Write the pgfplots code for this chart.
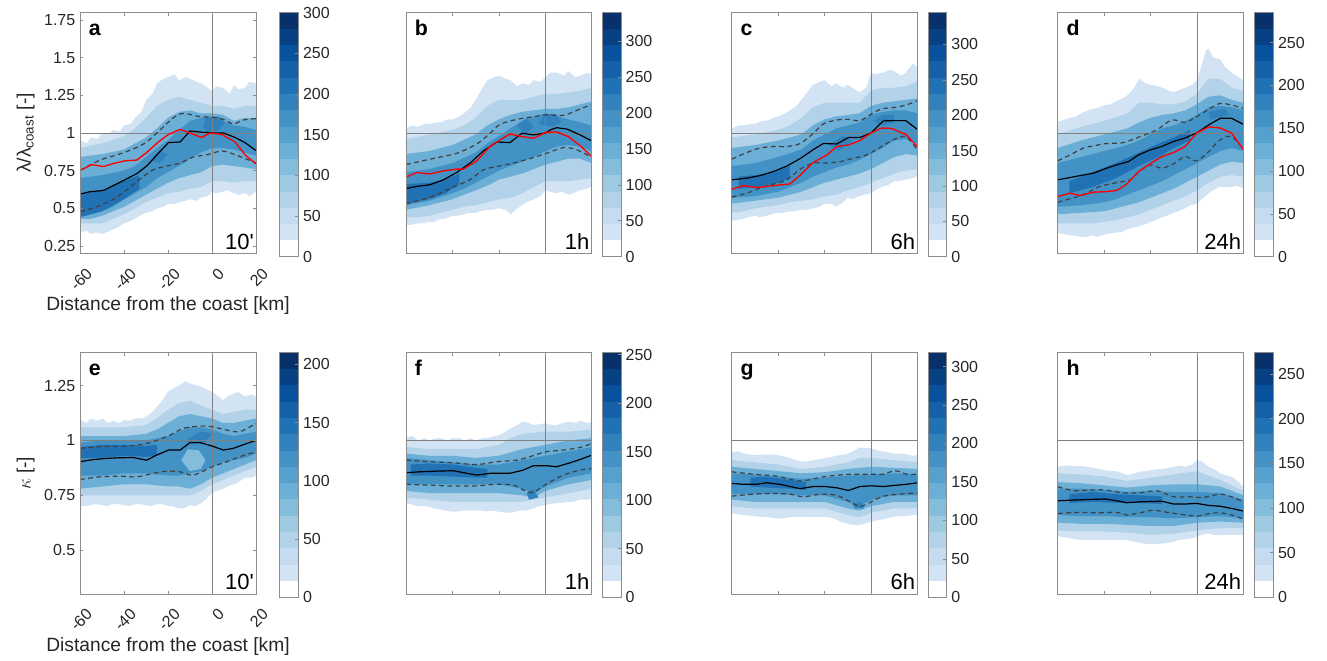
\documentclass[border=0pt]{standalone}
\usepackage{fontspec}
\setmainfont{Liberation Sans}
\usepackage{pgfplots}
\pgfplotsset{compat=1.18}
\definecolor{cb1}{RGB}{210,227,243}
\definecolor{cb2}{RGB}{197,219,239}
\definecolor{cb3}{RGB}{177,210,232}
\definecolor{cb4}{RGB}{158,202,225}
\definecolor{cb5}{RGB}{132,188,219}
\definecolor{cb6}{RGB}{107,174,214}
\definecolor{cb7}{RGB}{86,160,206}
\definecolor{cb8}{RGB}{66,146,198}
\definecolor{cb9}{RGB}{49,129,189}
\definecolor{cb10}{RGB}{33,113,181}
\definecolor{cb11}{RGB}{20,97,168}
\definecolor{cb12}{RGB}{8,81,156}
\definecolor{cb13}{RGB}{8,65,131}
\definecolor{cb14}{RGB}{8,48,107}
\definecolor{framec}{RGB}{140,140,140}
\definecolor{txtc}{RGB}{38,38,38}
\definecolor{dashc}{RGB}{64,64,64}
\colorlet{Lone}{cb1}
\colorlet{Ltwo}{cb3}
\colorlet{Lthree}{cb6}
\colorlet{Lfour}{cb8}
\colorlet{Lfive}{cb10}
\colorlet{Lblob}{cb9}
\pgfplotsset{
  /pgf/number format/assume math mode=true,
  panel/.style={scale only axis, anchor=south west, xmin=-60, xmax=20, axis on top,
    axis line style={draw=framec, line width=0.45pt},
    tick style={draw=framec, line width=0.45pt},
    tick align=inside, major tick length=2.5pt,
    xtick={-60,-40,-20,0,20}, xticklabels={}, ytick=\empty,
    ticklabel style={text=txtc, font=\fontsize{12}{13}\selectfont},
    label style={text=txtc, font=\fontsize{14.4}{16}\selectfont}},
  toprow/.style={panel, ymin=0.2, ymax=1.8, height=180.75pt},
  botrow/.style={panel, ymin=0.3, ymax=1.4, height=181pt},
  labx/.style={xticklabels={-60,-40,-20,0,20},
    xticklabel style={anchor=east, inner sep=0.5pt, xshift=7.5pt, yshift=-12.75pt, rotate=45},
    xlabel={Distance from the coast [km]},
    xlabel style={at={(axis description cs:0.5,0)}, anchor=base, yshift=-43pt, inner sep=0pt},
    ylabel style={at={(axis description cs:-0.2557,0.5)}, anchor=south, inner sep=0pt}},
  cbar/.style={scale only axis, anchor=south west, xmin=-0.5, xmax=0.5, ymin=0,
    ybar stacked, bar width=1, axis on top, xtick=\empty,
    ytick pos=right, yticklabel pos=right, tick align=inside, major tick length=2.5pt,
    axis line style={draw=framec, line width=0.45pt},
    tick style={draw=framec, line width=0.45pt},
    ticklabel style={text=txtc, font=\fontsize{12}{13}\selectfont}},
  blk/.style={black, line width=0.9pt},
  redl/.style={red, line width=1.0pt},
  dsh/.style={dashc, line width=0.9pt, dash pattern=on 3.6pt off 2.6pt},
  refl/.style={black!50, line width=0.5pt}
}
\newcommand\lay[2]{\addplot[fill=#1, draw=none] coordinates {#2};}
\newcommand\cbars[1]{%
 \addplot[fill=white,draw=none] coordinates {(0,#1)};
 \addplot[fill=cb1,draw=none] coordinates {(0,#1)};
 \addplot[fill=cb2,draw=none] coordinates {(0,#1)};
 \addplot[fill=cb3,draw=none] coordinates {(0,#1)};
 \addplot[fill=cb4,draw=none] coordinates {(0,#1)};
 \addplot[fill=cb5,draw=none] coordinates {(0,#1)};
 \addplot[fill=cb6,draw=none] coordinates {(0,#1)};
 \addplot[fill=cb7,draw=none] coordinates {(0,#1)};
 \addplot[fill=cb8,draw=none] coordinates {(0,#1)};
 \addplot[fill=cb9,draw=none] coordinates {(0,#1)};
 \addplot[fill=cb10,draw=none] coordinates {(0,#1)};
 \addplot[fill=cb11,draw=none] coordinates {(0,#1)};
 \addplot[fill=cb12,draw=none] coordinates {(0,#1)};
 \addplot[fill=cb13,draw=none] coordinates {(0,#1)};
 \addplot[fill=cb14,draw=none] coordinates {(0,#1)};}
\newcommand\reflines[1]{%
 \addplot[refl] coordinates {(-60,1) (20,1)};
 \addplot[refl] coordinates {(0,0) (0,2)};}
\newcommand\plab[1]{\node[anchor=base west, inner sep=0pt, font=\bfseries\fontsize{16}{16}\selectfont, xshift=6.5pt, yshift=-17.5pt] at (rel axis cs:0,1) {#1};}
\newcommand\tlab[1]{\node[anchor=base east, inner sep=0pt, font=\fontsize{16.5}{16.5}\selectfont, xshift=-1.5pt, yshift=3pt] at (rel axis cs:1,0) {#1};}
\begin{document}
\begin{tikzpicture}
\useasboundingbox (0pt,0pt) rectangle (995.25pt,495pt);
%% ---------------- a ----------------
\begin{axis}[toprow, at={(60pt,304.9pt)}, width=132pt, labx,
  ytick={0.25,0.5,0.75,1,1.25,1.5,1.75}, yticklabels={0.25,0.5,0.75,1,1.25,1.5,1.75},
  ylabel={λ/λ\textsubscript{coast} [-]}]
\lay{Lone}{(-60,0.95) (-57,0.93) (-55,0.97) (-52,0.96) (-50,1.0) (-47,0.99) (-45,1.02) (-42,1.01) (-40,1.05) (-37,1.06) (-35,1.10) (-32,1.14) (-30,1.22) (-27,1.26) (-25,1.33) (-22,1.36) (-20,1.37) (-17,1.39) (-15,1.35) (-12,1.37) (-10,1.36) (-7,1.34) (-5,1.33) (-2,1.30) (0,1.28) (2,1.31) (5,1.30) (8,1.26) (10,1.32) (12,1.29) (15,1.30) (17,1.34) (20,1.33)
 (20,0.61) (17,0.58) (15,0.60) (12,0.59) (10,0.60) (7,0.62) (5,0.61) (2,0.60) (0,0.61) (-2,0.58) (-5,0.57) (-7,0.55) (-10,0.56) (-12,0.55) (-15,0.54) (-17,0.53) (-20,0.53) (-22,0.51) (-25,0.50) (-27,0.48) (-30,0.47) (-33,0.45) (-35,0.43) (-38,0.41) (-40,0.40) (-43,0.37) (-45,0.36) (-48,0.34) (-50,0.33) (-53,0.34) (-55,0.33) (-57,0.35) (-60,0.34)}
\lay{Ltwo}{(-60,0.90) (-50,0.93) (-40,0.98) (-35,1.03) (-30,1.10) (-25,1.18) (-20,1.22) (-15,1.24) (-10,1.22) (-5,1.20) (0,1.18) (5,1.18) (10,1.16) (15,1.18) (20,1.18)
 (20,0.68) (15,0.68) (10,0.67) (5,0.68) (0,0.68) (-5,0.64) (-10,0.63) (-15,0.61) (-20,0.60) (-25,0.57) (-30,0.54) (-35,0.50) (-40,0.46) (-45,0.43) (-50,0.40) (-55,0.40) (-60,0.40)}
\lay{Lthree}{(-60,0.84) (-50,0.86) (-40,0.89) (-30,0.97) (-25,1.03) (-20,1.10) (-15,1.14) (-10,1.15) (-5,1.13) (0,1.13) (5,1.12) (10,1.08) (15,1.10) (20,1.10)
 (20,0.76) (15,0.77) (10,0.78) (5,0.79) (0,0.78) (-5,0.74) (-10,0.72) (-15,0.70) (-20,0.67) (-25,0.63) (-30,0.59) (-35,0.55) (-40,0.51) (-50,0.45) (-55,0.43) (-60,0.43)}
\lay{Lfour}{(-60,0.70) (-50,0.72) (-40,0.75) (-35,0.78) (-30,0.84) (-25,0.90) (-20,0.95) (-15,1.02) (-10,1.08) (-5,1.10) (0,1.11) (5,1.08) (10,1.05) (15,1.04) (20,1.02)
 (20,0.85) (15,0.87) (10,0.89) (5,0.90) (0,0.90) (-5,0.87) (-10,0.83) (-15,0.78) (-20,0.74) (-25,0.70) (-30,0.64) (-35,0.60) (-40,0.56) (-45,0.51) (-50,0.48) (-55,0.46) (-60,0.45)}
\lay{Lfive}{(-60,0.60) (-50,0.62) (-40,0.68) (-33,0.72) (-33,0.63) (-40,0.56) (-50,0.48) (-60,0.44)}
\lay{Lblob}{(-4,1.04) (-3,1.10) (3,1.11) (6,1.07) (3,1.02) (-2,1.00)}
\lay{Lblob}{(-28,0.82) (-24,0.88) (-20,0.86) (-24,0.80)}
\reflines{}
\addplot[dsh, smooth] coordinates {(-60,0.75) (-50.9,0.82) (-43.3,0.854) (-35.8,0.894) (-29.7,0.94) (-23.6,1.02) (-17.6,1.10) (-13,1.13) (-5.5,1.108) (0.6,1.104) (5.2,1.09) (9.7,1.06) (14.2,1.086) (20,1.095)};
\addplot[dsh, smooth] coordinates {(-60,0.475) (-52.4,0.51) (-44.8,0.56) (-38.8,0.62) (-32.7,0.695) (-26.7,0.755) (-20.6,0.78) (-14.5,0.80) (-8.5,0.84) (-2.4,0.855) (4.4,0.88) (9.7,0.86) (15.8,0.826) (20,0.80)};
\addplot[blk] coordinates {(-60,0.594) (-55.5,0.61) (-49.4,0.618) (-44.1,0.656) (-39.5,0.69) (-34.2,0.73) (-29.7,0.78) (-24.4,0.865) (-19.8,0.936) (-14.5,0.94) (-10,1.013) (-4.7,1.005) (0.6,1.0) (5.2,1.0) (10.5,0.97) (15,0.936) (20,0.883)};
\addplot[redl] coordinates {(-60,0.75) (-54.7,0.79) (-49.4,0.777) (-44.1,0.80) (-39.5,0.815) (-34.2,0.82) (-29.7,0.87) (-24.4,0.94) (-19.8,0.99) (-14.5,1.024) (-10,1.0) (-4.7,0.97) (-0.9,1.0) (4.4,0.99) (10.5,0.94) (15,0.855) (20,0.795)};
\plab{a}\tlab{10\textquotesingle}
\end{axis}
\begin{axis}[cbar, at={(209.5pt,302.5pt)}, width=14.25pt, height=183pt, ymax=300, ytick={0,50,...,300}, yticklabels={0,50,100,150,200,250,300}]
\cbars{20}
\end{axis}
%% ---------------- b ----------------
\begin{axis}[toprow, at={(304.5pt,304.9pt)}, width=139.3pt]
\lay{Lone}{(-60,1.03) (-57,1.05) (-55,1.04) (-52,1.06) (-50,1.06) (-47,1.07) (-45,1.07) (-42,1.09) (-40,1.09) (-37,1.11) (-35,1.13) (-32,1.17) (-30,1.22) (-27,1.30) (-25,1.35) (-22,1.37) (-20,1.38) (-17,1.36) (-15,1.35) (-12,1.31) (-10,1.33) (-7,1.32) (-5,1.35) (-2,1.34) (0,1.37) (2,1.40) (5,1.40) (8,1.38) (10,1.41) (13,1.37) (15,1.38) (18,1.40) (20,1.39)
 (20,0.645) (18,0.63) (15,0.62) (12,0.60) (10,0.59) (7,0.61) (5,0.60) (2,0.61) (0,0.62) (-2,0.58) (-5,0.56) (-8,0.54) (-10,0.52) (-12,0.50) (-15,0.46) (-17,0.49) (-20,0.50) (-23,0.49) (-25,0.49) (-28,0.48) (-30,0.47) (-33,0.47) (-35,0.46) (-38,0.45) (-40,0.45) (-43,0.43) (-45,0.43) (-48,0.41) (-50,0.41) (-53,0.40) (-55,0.40) (-58,0.39) (-60,0.39)}
\lay{Ltwo}{(-60,0.96) (-50,0.99) (-40,1.02) (-35,1.05) (-30,1.10) (-25,1.18) (-20,1.22) (-15,1.22) (-10,1.22) (-5,1.24) (0,1.26) (5,1.26) (10,1.27) (15,1.28) (20,1.30)
 (20,0.70) (15,0.69) (10,0.68) (5,0.68) (0,0.68) (-5,0.64) (-10,0.60) (-15,0.57) (-20,0.56) (-25,0.54) (-30,0.52) (-35,0.51) (-40,0.49) (-45,0.47) (-50,0.45) (-55,0.44) (-60,0.44)}
\lay{Lthree}{(-60,0.86) (-50,0.88) (-40,0.92) (-30,0.99) (-25,1.05) (-20,1.09) (-15,1.12) (-10,1.14) (-5,1.15) (0,1.16) (5,1.16) (10,1.17) (15,1.19) (20,1.21)
 (20,0.80) (15,0.83) (10,0.83) (5,0.81) (0,0.79) (-5,0.76) (-10,0.73) (-15,0.71) (-20,0.69) (-25,0.65) (-30,0.62) (-35,0.59) (-40,0.56) (-50,0.52) (-60,0.49)}
\lay{Lfour}{(-60,0.74) (-50,0.76) (-40,0.80) (-30,0.87) (-25,0.93) (-20,0.98) (-15,1.03) (-10,1.08) (-5,1.11) (0,1.13) (5,1.11) (10,1.09) (15,1.07) (20,1.05)
 (20,0.88) (15,0.91) (10,0.92) (5,0.91) (0,0.88) (-5,0.84) (-10,0.81) (-15,0.78) (-20,0.75) (-25,0.71) (-30,0.67) (-35,0.63) (-40,0.60) (-50,0.55) (-60,0.52)}
\lay{Lfive}{(-60,0.66) (-50,0.67) (-43,0.69) (-37,0.73) (-37,0.66) (-43,0.60) (-50,0.56) (-60,0.53)}
\lay{Lblob}{(-3,1.06) (0,1.13) (5,1.12) (7,1.07) (3,1.04)}
\lay{Lblob}{(-12,1.05) (-8,1.10) (-5,1.04) (-9,0.99)}
\reflines{}
\addplot[dsh, smooth] coordinates {(-60,0.79) (-49.7,0.826) (-38.2,0.865) (-29.5,0.927) (-23.8,0.998) (-19.5,1.057) (-12.3,1.09) (-5.1,1.108) (0.6,1.12) (7.8,1.117) (13.6,1.15) (20,1.19)};
\addplot[dsh, smooth] coordinates {(-60,0.53) (-52.5,0.56) (-45.3,0.60) (-38.2,0.65) (-32.4,0.69) (-26.7,0.755) (-20.9,0.777) (-13.7,0.80) (-6.6,0.83) (0.6,0.865) (7.8,0.903) (13.6,0.888) (20,0.837)};
\addplot[blk] coordinates {(-60,0.631) (-55.4,0.645) (-49.7,0.656) (-43.9,0.689) (-38.2,0.737) (-32.4,0.80) (-26.7,0.88) (-20.9,0.94) (-15.2,0.936) (-10.1,0.998) (-5.1,0.987) (0.2,1.0) (2.1,1.02) (4.9,1.035) (9.3,1.026) (15,0.987) (20,0.947)};
\addplot[redl] coordinates {(-60,0.706) (-55.4,0.737) (-49.7,0.728) (-43.9,0.748) (-38.2,0.76) (-35.3,0.76) (-29.5,0.815) (-23.8,0.91) (-19.5,0.954) (-15.2,0.993) (-10.1,0.976) (-5.1,0.965) (0.2,1.004) (4.9,1.007) (9.9,0.976) (15,0.916) (20,0.843)};
\plab{b}\tlab{1h}
\end{axis}
\begin{axis}[cbar, at={(451.7pt,302.5pt)}, width=14pt, height=183pt, ymax=340, ytick={0,50,...,300}, yticklabels={0,50,100,150,200,250,300}]
\cbars{22.667}
\end{axis}
%% ---------------- c ----------------
\begin{axis}[toprow, at={(548.8pt,304.9pt)}, width=139.2pt]
\lay{Lone}{(-60,1.03) (-57,1.05) (-55,1.05) (-52,1.06) (-50,1.06) (-47,1.08) (-45,1.08) (-42,1.10) (-40,1.11) (-37,1.13) (-35,1.15) (-32,1.18) (-30,1.22) (-27,1.28) (-25,1.32) (-22,1.34) (-20,1.35) (-17,1.31) (-15,1.33) (-12,1.30) (-10,1.32) (-7,1.29) (-5,1.27) (-2,1.30) (0,1.40) (2,1.39) (5,1.40) (8,1.42) (10,1.41) (13,1.38) (15,1.40) (18,1.46) (20,1.44)
 (20,0.71) (18,0.70) (15,0.69) (12,0.68) (10,0.68) (7,0.65) (5,0.645) (2,0.62) (0,0.60) (-3,0.59) (-5,0.58) (-8,0.56) (-10,0.57) (-12,0.54) (-15,0.51) (-17,0.53) (-20,0.53) (-22,0.51) (-25,0.50) (-28,0.49) (-30,0.49) (-33,0.48) (-35,0.48) (-38,0.47) (-40,0.47) (-43,0.46) (-45,0.45) (-48,0.44) (-50,0.45) (-53,0.44) (-55,0.43) (-58,0.42) (-60,0.42)}
\lay{Ltwo}{(-60,0.97) (-50,0.99) (-40,1.02) (-35,1.05) (-30,1.10) (-25,1.17) (-20,1.20) (-15,1.20) (-10,1.20) (-5,1.20) (0,1.28) (5,1.30) (10,1.30) (15,1.31) (20,1.34)
 (20,0.76) (15,0.75) (10,0.73) (5,0.70) (0,0.67) (-5,0.64) (-10,0.62) (-15,0.59) (-20,0.58) (-25,0.56) (-30,0.55) (-35,0.54) (-40,0.52) (-45,0.51) (-50,0.50) (-55,0.48) (-60,0.47)}
\lay{Lthree}{(-60,0.90) (-50,0.92) (-40,0.95) (-30,0.99) (-25,1.05) (-20,1.09) (-15,1.11) (-10,1.12) (-5,1.13) (0,1.18) (5,1.20) (10,1.21) (15,1.22) (20,1.23)
 (20,0.85) (15,0.86) (10,0.84) (5,0.80) (0,0.76) (-5,0.73) (-10,0.71) (-15,0.69) (-20,0.67) (-25,0.64) (-30,0.61) (-35,0.59) (-40,0.57) (-50,0.55) (-60,0.53)}
\lay{Lfour}{(-60,0.78) (-50,0.80) (-40,0.84) (-30,0.89) (-25,0.95) (-20,0.99) (-15,1.03) (-10,1.05) (-5,1.07) (0,1.12) (5,1.14) (10,1.15) (15,1.15) (20,1.13)
 (20,0.93) (15,0.96) (10,0.95) (5,0.90) (0,0.86) (-5,0.82) (-10,0.79) (-15,0.77) (-20,0.74) (-25,0.71) (-30,0.67) (-35,0.64) (-40,0.61) (-50,0.58) (-60,0.57)}
\lay{Lfive}{(-57,0.71) (-50,0.72) (-42,0.74) (-35,0.78) (-35,0.70) (-42,0.66) (-50,0.64) (-57,0.63)}
\lay{Lblob}{(1,1.08) (5,1.12) (10,1.12) (10,1.07) (5,1.05)}
\lay{Lblob}{(-18,0.92) (-12,0.98) (-8,0.95) (-14,0.88)}
\reflines{}
\addplot[dsh, smooth] coordinates {(-60,0.826) (-53.5,0.87) (-47.8,0.90) (-42,0.91) (-36.3,0.91) (-30.5,0.93) (-24.8,0.998) (-20.5,1.06) (-14.7,1.086) (-9.7,1.09) (-4.7,1.082) (0,1.124) (4.6,1.16) (9.6,1.168) (15,1.185) (20,1.214)};
\addplot[dsh, smooth] coordinates {(-60,0.574) (-53.5,0.60) (-47.8,0.634) (-42,0.66) (-36.3,0.689) (-30.5,0.76) (-24.8,0.80) (-19,0.80) (-13.2,0.81) (-7.6,0.832) (-1.9,0.854) (4.6,0.91) (9.6,0.954) (15,0.976) (20,0.887)};
\addplot[blk] coordinates {(-60,0.689) (-53.5,0.70) (-47.8,0.717) (-42,0.744) (-36.3,0.78) (-30.5,0.83) (-24.8,0.89) (-20.5,0.93) (-14.7,0.927) (-9.7,0.97) (-4.7,0.97) (0,1.0) (5.3,1.08) (9.6,1.082) (15,1.082) (20,1.024)};
\addplot[redl] coordinates {(-60,0.627) (-55,0.65) (-49.2,0.638) (-42,0.65) (-34.9,0.662) (-30.5,0.72) (-24.8,0.805) (-19,0.854) (-14.7,0.91) (-9.7,0.92) (-4.7,0.95) (0,1.0) (4.6,1.033) (8.9,1.03) (15,0.99) (20,0.91)};
\plab{c}\tlab{6h}
\end{axis}
\begin{axis}[cbar, at={(696.2pt,302.5pt)}, width=13.8pt, height=183pt, ymax=345, ytick={0,50,...,300}, yticklabels={0,50,100,150,200,250,300}]
\cbars{23}
\end{axis}
%% ---------------- d ----------------
\begin{axis}[toprow, at={(793.3pt,304.9pt)}, width=139.2pt]
\lay{Lone}{(-60,1.075) (-57,1.09) (-55,1.10) (-52,1.11) (-50,1.13) (-47,1.15) (-45,1.16) (-42,1.17) (-40,1.185) (-37,1.19) (-35,1.21) (-32,1.23) (-30,1.25) (-27,1.30) (-25,1.36) (-22,1.33) (-20,1.32) (-17,1.31) (-15,1.30) (-12,1.28) (-10,1.27) (-7,1.29) (-5,1.30) (-2,1.32) (0,1.35) (2,1.45) (4,1.55) (5,1.56) (7,1.50) (10,1.49) (12,1.44) (15,1.40) (18,1.37) (20,1.35)
 (20,0.633) (17,0.65) (15,0.64) (12,0.64) (10,0.645) (7,0.62) (5,0.60) (2,0.56) (0,0.53) (-3,0.52) (-5,0.50) (-8,0.48) (-10,0.47) (-13,0.45) (-15,0.44) (-18,0.42) (-20,0.41) (-23,0.39) (-25,0.38) (-28,0.37) (-30,0.36) (-33,0.34) (-35,0.34) (-38,0.33) (-40,0.325) (-43,0.31) (-45,0.32) (-48,0.31) (-50,0.31) (-53,0.32) (-55,0.32) (-58,0.33) (-60,0.335)}
\lay{Ltwo}{(-60,0.99) (-50,1.04) (-40,1.08) (-30,1.13) (-25,1.20) (-20,1.20) (-15,1.19) (-10,1.19) (-5,1.21) (0,1.26) (5,1.36) (10,1.36) (15,1.30) (20,1.28)
 (20,0.71) (15,0.72) (10,0.71) (5,0.67) (0,0.62) (-5,0.58) (-10,0.55) (-15,0.52) (-20,0.49) (-25,0.46) (-30,0.44) (-35,0.42) (-40,0.41) (-45,0.40) (-50,0.40) (-55,0.40) (-60,0.40)}
\lay{Lthree}{(-60,0.90) (-50,0.95) (-40,0.99) (-30,1.03) (-25,1.07) (-20,1.10) (-15,1.12) (-10,1.13) (-5,1.15) (0,1.19) (5,1.24) (10,1.25) (15,1.22) (20,1.20)
 (20,0.80) (15,0.81) (10,0.79) (5,0.75) (0,0.71) (-5,0.67) (-10,0.63) (-15,0.60) (-20,0.57) (-25,0.54) (-30,0.52) (-35,0.50) (-40,0.48) (-50,0.47) (-60,0.46)}
\lay{Lfour}{(-60,0.80) (-50,0.84) (-40,0.88) (-30,0.92) (-25,0.95) (-20,0.99) (-15,1.03) (-10,1.05) (-5,1.08) (0,1.12) (5,1.17) (10,1.18) (15,1.17) (20,1.15)
 (20,0.88) (15,0.90) (10,0.88) (5,0.84) (0,0.80) (-5,0.76) (-10,0.72) (-15,0.68) (-20,0.65) (-25,0.62) (-30,0.59) (-35,0.56) (-40,0.54) (-50,0.52) (-60,0.51)}
\lay{Lfive}{(-55,0.68) (-45,0.74) (-35,0.80) (-25,0.87) (-18,0.92) (-10,0.97) (-3,1.02) (-3,0.95) (-10,0.90) (-18,0.83) (-25,0.78) (-35,0.70) (-45,0.64) (-55,0.60)}
\lay{Lblob}{(5,1.14) (12,1.16) (14,1.12) (6,1.09)}
\reflines{}
\addplot[dsh, smooth] coordinates {(-60,0.815) (-54.7,0.854) (-48.9,0.90) (-44.6,0.914) (-38.9,0.93) (-31.7,0.936) (-24.5,0.976) (-17.3,1.02) (-10.9,1.086) (-5.1,1.07) (-0.1,1.108) (5.7,1.163) (10,1.196) (15,1.185) (20,1.163)};
\addplot[dsh, smooth] coordinates {(-60,0.54) (-54.7,0.563) (-48.9,0.59) (-41.8,0.645) (-34.6,0.67) (-28.8,0.689) (-24.5,0.748) (-20.2,0.788) (-15.2,0.766) (-10.1,0.795) (-5.1,0.843) (-0.1,0.815) (5,0.876) (10,0.954) (15,0.976) (20,0.89)};
\addplot[blk] coordinates {(-60,0.689) (-54.7,0.704) (-50.4,0.717) (-44.6,0.733) (-38.9,0.766) (-34.6,0.788) (-29.5,0.81) (-25.2,0.854) (-20.2,0.887) (-15.2,0.91) (-10.1,0.943) (-5.1,0.967) (-0.1,1.0) (5,1.053) (10,1.097) (15,1.097) (20,1.057)};
\addplot[redl] coordinates {(-60,0.578) (-54.7,0.60) (-50.4,0.585) (-44.6,0.607) (-39.6,0.61) (-34.6,0.618) (-30.3,0.66) (-25.2,0.744) (-20.2,0.795) (-15.2,0.843) (-10.1,0.87) (-5.1,0.91) (-0.1,1.0) (5,1.04) (10,1.033) (15,0.998) (20,0.89)};
\plab{d}\tlab{24h}
\end{axis}
\begin{axis}[cbar, at={(940.5pt,302.5pt)}, width=14.5pt, height=183pt, ymax=285, ytick={0,50,...,250}, yticklabels={0,50,100,150,200,250}]
\cbars{19}
\end{axis}
%% ---------------- e ----------------
\begin{axis}[botrow, at={(60pt,49.5pt)}, width=132pt, labx,
  ytick={0.5,0.75,1,1.25}, yticklabels={0.5,0.75,1,1.25},
  ylabel={$\kappa$ [-]}]
\lay{Lone}{(-60,1.096) (-57,1.08) (-55,1.10) (-52,1.09) (-50,1.10) (-47,1.08) (-45,1.09) (-42,1.08) (-40,1.093) (-37,1.09) (-35,1.10) (-32,1.10) (-30,1.108) (-27,1.13) (-25,1.153) (-22,1.19) (-20,1.222) (-17,1.24) (-15,1.25) (-12,1.27) (-10,1.26) (-7,1.25) (-5,1.245) (-2,1.23) (0,1.222) (3,1.20) (5,1.184) (7,1.20) (10,1.214) (12,1.22) (15,1.20) (18,1.21) (20,1.20)
 (20,0.84) (18,0.83) (15,0.83) (12,0.81) (10,0.80) (7,0.79) (5,0.78) (2,0.77) (0,0.76) (-3,0.73) (-5,0.713) (-8,0.70) (-10,0.705) (-13,0.69) (-15,0.69) (-18,0.70) (-20,0.70) (-23,0.71) (-25,0.71) (-28,0.70) (-30,0.705) (-33,0.71) (-35,0.71) (-38,0.70) (-40,0.705) (-43,0.71) (-45,0.71) (-48,0.70) (-50,0.705) (-53,0.71) (-55,0.705) (-58,0.70) (-60,0.70)}
\lay{Ltwo}{(-60,1.06) (-50,1.06) (-40,1.06) (-30,1.07) (-25,1.10) (-20,1.14) (-15,1.17) (-10,1.18) (-5,1.16) (0,1.14) (5,1.12) (10,1.13) (15,1.14) (20,1.14)
 (20,0.88) (15,0.86) (10,0.84) (5,0.82) (0,0.80) (-5,0.77) (-10,0.75) (-15,0.75) (-20,0.75) (-30,0.75) (-40,0.75) (-50,0.75) (-60,0.75)}
\lay{Lthree}{(-60,1.02) (-50,1.02) (-40,1.02) (-30,1.03) (-25,1.05) (-20,1.08) (-15,1.11) (-10,1.12) (-5,1.11) (0,1.10) (5,1.08) (10,1.08) (15,1.09) (20,1.10)
 (20,0.91) (15,0.89) (10,0.87) (5,0.85) (0,0.83) (-5,0.80) (-10,0.78) (-15,0.79) (-20,0.79) (-30,0.80) (-40,0.80) (-50,0.79) (-60,0.78)}
\lay{Lfour}{(-60,0.99) (-50,1.0) (-40,1.0) (-30,1.0) (-25,1.01) (-20,1.02) (-15,1.04) (-10,1.06) (-5,1.06) (0,1.05) (5,1.03) (10,1.02) (15,1.03) (20,1.04)
 (20,0.94) (15,0.92) (10,0.91) (5,0.90) (0,0.88) (-5,0.86) (-10,0.85) (-15,0.84) (-20,0.84) (-30,0.85) (-40,0.85) (-50,0.84) (-60,0.84)}
\lay{cb5}{(-14,0.91) (-11,0.96) (-6,0.955) (-3,0.91) (-5,0.87) (-10,0.86)}
\lay{Lfive}{(-60,0.97) (-50,0.98) (-40,0.98) (-30,0.975) (-25,0.98) (-25,0.93) (-30,0.925) (-40,0.93) (-50,0.92) (-60,0.92)}
\lay{Lblob}{(-12,1.0) (-5,1.04) (0,1.03) (-3,0.99) (-9,0.98)}
\reflines{}
\addplot[dsh, smooth] coordinates {(-60,0.964) (-50.9,0.971) (-38.8,0.974) (-29.7,0.986) (-20.6,1.017) (-13,1.055) (-5.5,1.065) (0.2,1.062) (6.7,1.047) (12.7,1.04) (20,1.078)};
\addplot[dsh, smooth] coordinates {(-60,0.822) (-50.9,0.834) (-41.8,0.837) (-34.2,0.834) (-26.7,0.85) (-20.6,0.86) (-14.5,0.857) (-8.5,0.842) (0.2,0.88) (6.7,0.903) (12.7,0.926) (20,0.948)};
\addplot[blk] coordinates {(-60,0.903) (-53.9,0.913) (-47.9,0.918) (-41.8,0.921) (-35.8,0.922) (-29.7,0.91) (-25.2,0.933) (-19.8,0.956) (-14.5,0.956) (-10,0.99) (-5.5,0.99) (0.2,0.974) (5.2,0.956) (9.7,0.964) (15.8,0.986) (20,1.0)};
\plab{e}\tlab{10\textquotesingle}
\end{axis}
\begin{axis}[cbar, at={(209.5pt,47pt)}, width=14.25pt, height=183.5pt, ymax=210, ytick={0,50,...,200}, yticklabels={0,50,100,150,200}]
\cbars{14}
\end{axis}
%% ---------------- f ----------------
\begin{axis}[botrow, at={(304.5pt,49.5pt)}, width=139.3pt]
\lay{Lone}{(-60,1.014) (-57,1.02) (-55,1.0) (-52,1.01) (-50,1.0) (-47,1.01) (-45,1.01) (-42,1.0) (-40,1.01) (-37,1.01) (-35,1.0) (-32,1.01) (-30,1.0) (-27,1.01) (-25,1.01) (-22,1.02) (-20,1.024) (-17,1.04) (-15,1.055) (-12,1.07) (-10,1.085) (-7,1.08) (-5,1.07) (-2,1.075) (0,1.078) (3,1.07) (5,1.07) (8,1.08) (10,1.085) (13,1.08) (15,1.09) (18,1.08) (20,1.085)
 (20,0.735) (18,0.73) (15,0.73) (12,0.72) (10,0.72) (7,0.715) (5,0.715) (2,0.71) (0,0.705) (-3,0.70) (-5,0.69) (-8,0.68) (-10,0.682) (-13,0.675) (-15,0.67) (-18,0.672) (-20,0.675) (-23,0.68) (-25,0.677) (-28,0.68) (-30,0.68) (-33,0.68) (-35,0.68) (-38,0.676) (-40,0.675) (-43,0.68) (-45,0.685) (-48,0.69) (-50,0.698) (-53,0.70) (-55,0.70) (-58,0.71) (-60,0.713)}
\lay{Ltwo}{(-60,0.97) (-50,0.96) (-40,0.96) (-30,0.96) (-20,0.98) (-15,1.01) (-10,1.03) (0,1.04) (10,1.04) (20,1.05)
 (20,0.78) (10,0.76) (0,0.74) (-10,0.72) (-20,0.72) (-30,0.72) (-40,0.72) (-50,0.73) (-60,0.74)}
\lay{Lthree}{(-60,0.94) (-50,0.93) (-40,0.93) (-30,0.92) (-20,0.93) (-10,0.96) (0,0.98) (10,1.0) (20,1.01)
 (20,0.82) (10,0.80) (0,0.77) (-5,0.74) (-10,0.75) (-20,0.76) (-30,0.76) (-40,0.76) (-50,0.76) (-60,0.77)}
\lay{Lfour}{(-60,0.92) (-50,0.91) (-40,0.90) (-30,0.89) (-20,0.89) (-10,0.91) (0,0.93) (10,0.95) (20,0.97)
 (20,0.85) (10,0.83) (0,0.79) (-5,0.76) (-10,0.78) (-20,0.80) (-30,0.80) (-40,0.80) (-50,0.80) (-60,0.80)}
\lay{Lfive}{(-58,0.89) (-50,0.895) (-40,0.89) (-30,0.875) (-25,0.87) (-25,0.83) (-30,0.83) (-40,0.835) (-50,0.84) (-58,0.84)}
\lay{Lblob}{(-8,0.76) (-5,0.78) (-3,0.74) (-7,0.73)}
\reflines{}
\addplot[dsh, smooth] coordinates {(-60,0.91) (-49.7,0.903) (-39.6,0.898) (-29.5,0.89) (-20.9,0.903) (-12.3,0.91) (-6.6,0.926) (0.2,0.948) (7.8,0.956) (15,0.968) (20,0.986)};
\addplot[dsh, smooth] coordinates {(-60,0.80) (-49.7,0.796) (-39.6,0.792) (-29.5,0.793) (-20.9,0.80) (-13.7,0.796) (-9.4,0.774) (-5.1,0.763) (0.2,0.80) (7.8,0.842) (15,0.865) (20,0.872)};
\addplot[blk] coordinates {(-60,0.853) (-54,0.857) (-46.8,0.86) (-39.6,0.862) (-35.3,0.853) (-29.5,0.842) (-23.8,0.85) (-15.2,0.85) (-9.4,0.865) (-5.1,0.885) (0.2,0.885) (4.9,0.88) (10.7,0.898) (15,0.913) (20,0.933)};
\plab{f}\tlab{1h}
\end{axis}
\begin{axis}[cbar, at={(451.7pt,47pt)}, width=14pt, height=183.5pt, ymax=252, ytick={0,50,...,250}, yticklabels={0,50,100,150,200,250}]
\cbars{16.8}
\end{axis}
%% ---------------- g ----------------
\begin{axis}[botrow, at={(548.8pt,49.5pt)}, width=139.2pt]
\lay{Lone}{(-60,0.948) (-57,0.95) (-55,0.94) (-52,0.935) (-50,0.933) (-47,0.935) (-45,0.935) (-42,0.935) (-40,0.933) (-37,0.925) (-35,0.92) (-32,0.91) (-30,0.903) (-27,0.905) (-25,0.91) (-22,0.915) (-20,0.918) (-17,0.925) (-15,0.93) (-12,0.935) (-10,0.94) (-7,0.955) (-5,0.968) (-2,0.965) (0,0.964) (3,0.955) (5,0.95) (8,0.945) (10,0.94) (13,0.94) (15,0.938) (18,0.93) (20,0.933)
 (20,0.66) (18,0.66) (15,0.655) (12,0.655) (10,0.652) (7,0.645) (5,0.64) (2,0.635) (0,0.629) (-3,0.62) (-5,0.614) (-8,0.615) (-10,0.62) (-13,0.63) (-15,0.64) (-18,0.65) (-20,0.652) (-23,0.65) (-25,0.65) (-28,0.65) (-30,0.652) (-33,0.652) (-35,0.65) (-38,0.645) (-40,0.644) (-43,0.648) (-45,0.65) (-48,0.652) (-50,0.655) (-53,0.658) (-55,0.66) (-58,0.665) (-60,0.667)}
\lay{Ltwo}{(-60,0.91) (-50,0.90) (-40,0.89) (-30,0.87) (-20,0.88) (-10,0.90) (-5,0.92) (0,0.92) (10,0.91) (20,0.90)
 (20,0.69) (10,0.69) (0,0.67) (-5,0.65) (-10,0.66) (-20,0.69) (-30,0.69) (-40,0.69) (-50,0.69) (-60,0.70)}
\lay{Lthree}{(-60,0.88) (-50,0.87) (-40,0.86) (-30,0.85) (-20,0.855) (-10,0.87) (0,0.88) (10,0.875) (20,0.87)
 (20,0.72) (10,0.72) (0,0.70) (-5,0.68) (-10,0.69) (-20,0.72) (-30,0.72) (-40,0.72) (-50,0.72) (-60,0.73)}
\lay{Lfour}{(-60,0.85) (-50,0.845) (-40,0.835) (-30,0.825) (-20,0.83) (-10,0.84) (0,0.845) (10,0.85) (20,0.845)
 (20,0.75) (10,0.75) (0,0.73) (-5,0.70) (-10,0.72) (-20,0.75) (-30,0.75) (-40,0.755) (-50,0.755) (-60,0.755)}
\lay{Lfive}{(-52,0.83) (-45,0.835) (-35,0.82) (-28,0.81) (-28,0.775) (-35,0.78) (-45,0.785) (-52,0.79)}
\lay{Lblob}{(-8,0.71) (-4,0.72) (-3,0.69) (-7,0.69)}
\reflines{}
\addplot[dsh, smooth] coordinates {(-60,0.857) (-50.7,0.846) (-40.6,0.837) (-30.5,0.815) (-20.5,0.834) (-10.4,0.845) (0.1,0.846) (5.4,0.846) (10.4,0.862) (15.4,0.846) (20,0.846)};
\addplot[dsh, smooth] coordinates {(-60,0.746) (-50.7,0.755) (-43.5,0.758) (-34.9,0.755) (-29.1,0.743) (-21.9,0.755) (-14.7,0.75) (-10.4,0.728) (-4.7,0.70) (0.1,0.72) (5.4,0.746) (12.6,0.755) (20,0.761)};
\addplot[blk] coordinates {(-60,0.804) (-55,0.80) (-49.2,0.80) (-44.9,0.807) (-39.2,0.80) (-34.9,0.79) (-30.5,0.78) (-24.8,0.79) (-19.8,0.79) (-14.7,0.784) (-9.7,0.772) (-4.7,0.79) (0.1,0.793) (5.4,0.79) (11.1,0.796) (15.4,0.80) (20,0.807)};
\plab{g}\tlab{6h}
\end{axis}
\begin{axis}[cbar, at={(696.2pt,47pt)}, width=13.8pt, height=183.5pt, ymax=318, ytick={0,50,...,300}, yticklabels={0,50,100,150,200,250,300}]
\cbars{21.2}
\end{axis}
%% ---------------- h ----------------
\begin{axis}[botrow, at={(793.3pt,49.5pt)}, width=139.2pt]
\lay{Lone}{(-60,0.88) (-57,0.885) (-55,0.885) (-52,0.882) (-50,0.883) (-47,0.88) (-45,0.875) (-42,0.87) (-40,0.865) (-37,0.86) (-35,0.86) (-32,0.85) (-30,0.842) (-27,0.85) (-25,0.857) (-22,0.86) (-20,0.865) (-17,0.868) (-15,0.87) (-12,0.875) (-10,0.88) (-7,0.885) (-5,0.88) (-2,0.89) (0,0.91) (2,0.905) (5,0.88) (8,0.865) (10,0.85) (13,0.84) (15,0.834) (18,0.81) (20,0.789)
 (20,0.568) (18,0.57) (15,0.57) (12,0.57) (10,0.568) (7,0.57) (5,0.576) (2,0.57) (0,0.56) (-3,0.552) (-5,0.55) (-8,0.545) (-10,0.538) (-13,0.532) (-15,0.53) (-18,0.528) (-20,0.527) (-23,0.53) (-25,0.535) (-28,0.54) (-30,0.546) (-33,0.546) (-35,0.545) (-38,0.546) (-40,0.546) (-43,0.545) (-45,0.545) (-48,0.546) (-50,0.546) (-53,0.55) (-55,0.555) (-58,0.56) (-60,0.564)}
\lay{Ltwo}{(-60,0.85) (-50,0.845) (-40,0.835) (-30,0.815) (-20,0.83) (-10,0.845) (0,0.86) (10,0.82) (20,0.77)
 (20,0.60) (10,0.60) (0,0.59) (-10,0.575) (-20,0.57) (-30,0.58) (-40,0.585) (-50,0.585) (-60,0.59)}
\lay{Lthree}{(-60,0.81) (-50,0.805) (-40,0.795) (-30,0.785) (-20,0.795) (-10,0.80) (0,0.80) (10,0.79) (20,0.75)
 (20,0.625) (10,0.63) (0,0.625) (-10,0.61) (-20,0.61) (-30,0.615) (-40,0.62) (-50,0.62) (-60,0.625)}
\lay{Lfour}{(-60,0.78) (-50,0.78) (-40,0.775) (-30,0.765) (-20,0.77) (-10,0.765) (0,0.765) (10,0.76) (20,0.73)
 (20,0.645) (10,0.655) (0,0.65) (-10,0.645) (-20,0.65) (-30,0.65) (-40,0.655) (-50,0.655) (-60,0.66)}
\lay{Lfive}{(-55,0.755) (-45,0.765) (-35,0.755) (-25,0.75) (-15,0.745) (-15,0.71) (-25,0.715) (-35,0.715) (-45,0.72) (-55,0.715)}
\reflines{}
\addplot[dsh, smooth] coordinates {(-60,0.789) (-53.2,0.771) (-46.1,0.774) (-39.6,0.774) (-31.7,0.761) (-24.5,0.761) (-17.3,0.771) (-10.1,0.743) (-3,0.743) (2.8,0.74) (10,0.755) (15,0.743) (20,0.72)};
\addplot[dsh, smooth] coordinates {(-60,0.667) (-51.8,0.672) (-43.2,0.67) (-34.6,0.672) (-30.3,0.66) (-24.5,0.67) (-18.8,0.682) (-11.6,0.67) (-4.4,0.66) (-0.1,0.655) (5.7,0.667) (10,0.67) (15,0.66) (20,0.641)};
\addplot[blk] coordinates {(-60,0.725) (-53.2,0.728) (-46.1,0.731) (-39.6,0.733) (-34.6,0.725) (-30.3,0.716) (-24.5,0.72) (-15.2,0.723) (-10.1,0.71) (-5.1,0.71) (-0.1,0.713) (4.9,0.704) (10,0.70) (15,0.69) (20,0.678)};
\plab{h}\tlab{24h}
\end{axis}
\begin{axis}[cbar, at={(940.5pt,47pt)}, width=14.5pt, height=183.5pt, ymax=274, ytick={0,50,...,250}, yticklabels={0,50,100,150,200,250}]
\cbars{18.27}
\end{axis}
\end{tikzpicture}
\end{document}
